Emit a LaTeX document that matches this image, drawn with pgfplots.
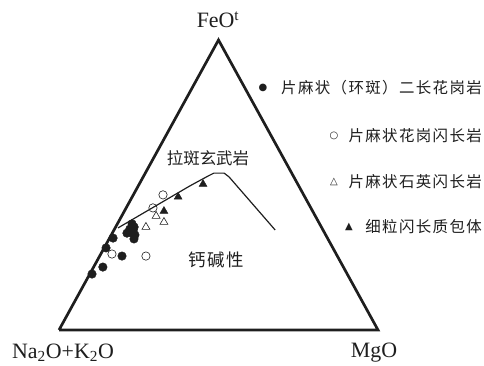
\documentclass[border=0pt]{standalone}
\usepackage{fontspec}
\usepackage{pgfplots}
\usepackage{pgfplotstable}
\pgfplotsset{compat=1.18}
\setmainfont{Liberation Serif}
\newfontfamily\cjk{Noto Sans CJK SC}
\newfontfamily\cjkleg[LetterSpace=9]{Noto Sans CJK SC}
\newfontfamily\sym{DejaVu Sans}

% AFM compositions (wt%): A = Na2O+K2O, F = FeOt, M = MgO
\pgfplotstableread{
A F M
58.8 36.6 4.6
58.7 35.5 5.8
60.4 34.8 4.8
59.5 34.5 6.0
62.0 33.4 4.6
60.4 33.4 6.2
59.8 32.8 7.4
60.8 31.4 7.8
67.2 31.7 1.1
71.1 28.3 0.6
67.5 25.5 7.0
75.4 21.7 2.9
80.0 19.3 0.7
}\monzogranite
\pgfplotstableread{
A F M
44.1 46.6 9.3
49.5 42.1 8.4
70.3 26.2 3.5
60.0 25.5 14.5
}\granodiorite
\pgfplotstableread{
A F M
49.9 39.3 10.8
48.5 37.2 14.3
55.0 35.5 9.5
}\quartzdiorite
\pgfplotstableread{
A F M
39.7 45.9 14.4
46.6 41.0 12.4
29.7 50.3 20.0
}\enclave
% tholeiitic / calc-alkaline boundary
\pgfplotstableread{
A F M
63.9 35.2 0.9
34.1 49.7 16.2
26.7 53.1 20.2
24.4 54.1 21.5
21.2 54.1 24.7
20.3 52.8 26.9
15.0 34.5 50.5
}\boundary
\pgfplotstableread{
A F M
100 0 0
0 0 100
0 100 0
100 0 0
}\frame

\definecolor{ink}{HTML}{1E1E1E}

\begin{document}
\begin{tikzpicture}
\begin{axis}[
  scale only axis, width=484bp, height=366bp,
  xmin=0, xmax=484, ymin=0, ymax=366,
  hide axis, clip=false,
  % ternary (A,F,M) -> plane: A bottom-left, M bottom-right, F top
  table/x expr={59+3.19*(\thisrow{M}+0.5*\thisrow{F})},
  table/y expr={36+2.90*\thisrow{F}},
]
\path (axis cs:0,0) rectangle (axis cs:484,366);

\addplot[ink, line width=2.7bp, line join=miter, mark=none] table {\frame};
\addplot[ink, line width=1.2bp, mark=none, line join=round] table {\boundary};

\addplot[only marks, mark=*, mark size=4.3, draw=ink, fill=ink] table {\monzogranite};
\addplot[only marks, mark=o, mark size=4.2, draw=ink, line width=0.6bp, fill=white] table {\granodiorite};
\addplot[only marks, mark=triangle, mark size=4.6, draw=ink, line width=0.6bp] table {\quartzdiorite};
\addplot[only marks, mark=triangle*, mark size=4.6, draw=ink, fill=ink] table {\enclave};

\begin{scope}[every node/.style={text=ink, inner sep=0pt}]
\node[font=\fontsize{22}{24}\selectfont] at (axis cs:218,346) {FeO\textsuperscript{t}};
\node[font=\fontsize{22}{24}\selectfont] at (axis cs:63,13) {Na\textsubscript{2}O+K\textsubscript{2}O};
\node[font=\fontsize{22}{24}\selectfont] at (axis cs:374,13) {MgO};

\node[font=\cjk\fontsize{16.5}{18}\selectfont] at (axis cs:208,208) {拉斑玄武岩};
\node[font=\cjkleg\fontsize{17.5}{19}\selectfont] at (axis cs:216,106) {钙碱性};

\node[anchor=east, font=\cjkleg\fontsize{15.5}{17}\selectfont] at (axis cs:482,278) {片麻状（环斑）二长花岗岩};
\node[anchor=east, font=\cjkleg\fontsize{15.5}{17}\selectfont] at (axis cs:482,230) {片麻状花岗闪长岩};
\node[anchor=east, font=\cjkleg\fontsize{15.5}{17}\selectfont] at (axis cs:482,184) {片麻状石英闪长岩};
\node[anchor=east, font=\cjkleg\fontsize{15.5}{17}\selectfont] at (axis cs:482,139) {细粒闪长质包体};

\node[font=\sym\fontsize{10}{12}\selectfont] at (axis cs:263,278) {●};
\node[font=\sym\fontsize{10}{12}\selectfont] at (axis cs:334,230) {○};
\node[font=\sym\fontsize{10}{12}\selectfont] at (axis cs:334,184) {△};
\node[font=\sym\fontsize{10}{12}\selectfont] at (axis cs:349,139) {▲};
\end{scope}
\end{axis}
\end{tikzpicture}
\end{document}
